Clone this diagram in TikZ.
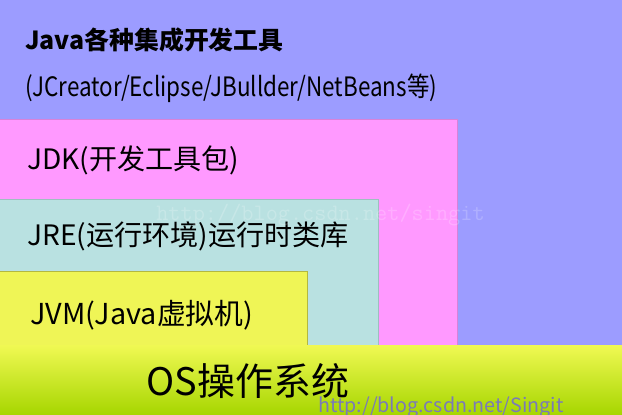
\documentclass[tikz,border=0pt]{standalone}
\usepackage{fontspec}
\setmainfont{Noto Sans CJK SC}

\definecolor{idepurple}{HTML}{9C9CFF}
\definecolor{jdkpink}{HTML}{FF99FF}
\definecolor{jrecyan}{HTML}{B9E1E1}
\definecolor{jvmyellow}{HTML}{EFF556}
\definecolor{ostop}{HTML}{EFF852}
\definecolor{osbottom}{HTML}{A6D600}

\tikzset{
  layertext/.style={anchor=west, inner sep=0pt, text=black, font=\fontsize{20}{24}\selectfont},
  marktext/.style={anchor=west, inner sep=0pt}
}

\begin{document}
\begin{tikzpicture}
\useasboundingbox (0,0) rectangle (15.55,10.375);

%draws background and layers
\fill[idepurple] (0,0) rectangle (15.55,10.375);
\draw[fill=jdkpink,draw=jdkpink!85!black,very thin] (-0.1,1.725) rectangle (11.425,7.4);
\draw[fill=jrecyan,draw=jrecyan!85!black,very thin] (-0.1,1.725) rectangle (9.45,5.4);
\draw[fill=jvmyellow,draw=jvmyellow!75!black,very thin] (-0.1,1.725) rectangle (7.675,3.6);
\shade[top color=ostop,bottom color=osbottom] (0,0) rectangle (15.55,1.725);

%label layers
\node[layertext,font=\bfseries\fontsize{17.7}{21}\selectfont] (ide) at (0.625,9.375) {Java各种集成开发工具};
\node[layertext,font=\fontsize{19}{23}\selectfont,xscale=0.84,transform shape] (tools) at (0.625,8.175) {(JCreator/Eclipse/JBullder/NetBeans等)};
\node[layertext] (jdk) at (0.675,6.375) {JDK(开发工具包)};
\node[layertext] (jre) at (0.675,4.475) {JRE(运行环境)运行时类库};
\node[layertext,font=\fontsize{20.5}{24}\selectfont] (jvm) at (0.75,2.5) {JVM(Java虚拟机)};
\node[layertext,anchor=center,font=\fontsize{27}{32}\selectfont] (os) at (6.2,0.85) {OS操作系统};

%watermarks
\node[marktext,text=white,opacity=0.2,font=\ttfamily\fontsize{16.8}{20}\selectfont] (markjre) at (3.9,5.0) {http://blog.csdn.net/singit};
\node[marktext,text=gray!70!blue!80!white,font=\fontsize{14}{17}\selectfont] (markos) at (7.95,0.2) {http://blog.csdn.net/Singit};
\end{tikzpicture}
\end{document}
